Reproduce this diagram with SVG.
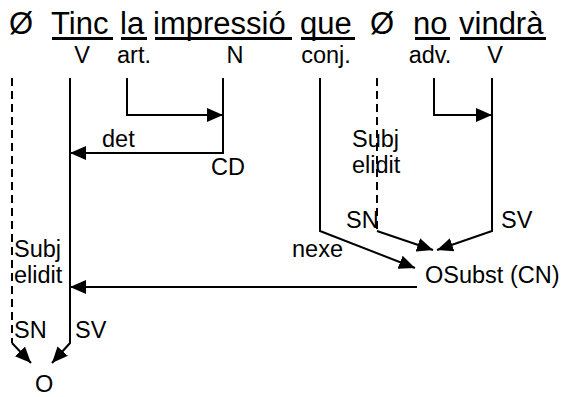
<svg xmlns="http://www.w3.org/2000/svg" width="567" height="397" viewBox="0 0 567 397">
<defs>
<style>
text{font-family:"Liberation Sans",Arial,sans-serif;fill:#000}
.w{font-size:31px}
.s{font-size:23.5px}
.m{text-anchor:middle}
.ln{fill:none;stroke:#000;stroke-width:2}
.d{stroke-dasharray:8,5}
.u{stroke:#000;stroke-width:3}
</style>
<marker id="ah" markerUnits="userSpaceOnUse" markerWidth="16" markerHeight="14" refX="16" refY="7" orient="auto">
<path d="M0,0 L16,7 L0,14 Z" fill="#000"/>
</marker>
</defs>
<rect width="567" height="397" fill="#fff"/>
<g id="words">
<text class="w" x="9" y="34">Ø</text>
<text class="w" x="51" y="34">Tinc</text>
<text class="w" x="120" y="34">la</text>
<text class="w" x="153" y="34">impressió</text>
<text class="w" x="300" y="34">que</text>
<text class="w" x="370" y="34">Ø</text>
<text class="w" x="413" y="34">no</text>
<text class="w" x="459" y="34">vindrà</text>
<line class="u" x1="52" y1="38.5" x2="113" y2="38.5"/>
<line class="u" x1="121" y1="38.5" x2="147" y2="38.5"/>
<line class="u" x1="155" y1="38.5" x2="292" y2="38.5"/>
<line class="u" x1="301" y1="38.5" x2="355" y2="38.5"/>
<line class="u" x1="415" y1="38.5" x2="450" y2="38.5"/>
<line class="u" x1="460" y1="38.5" x2="546" y2="38.5"/>
</g>
<g id="tags">
<text class="s m" x="82" y="63">V</text>
<text class="s m" x="134" y="63">art.</text>
<text class="s m" x="235" y="63">N</text>
<text class="s m" x="326" y="63">conj.</text>
<text class="s m" x="430" y="63">adv.</text>
<text class="s m" x="495" y="63">V</text>
</g>
<g id="connectors">
<path class="ln" d="M127,78 V115 H223" marker-end="url(#ah)"/>
<path class="ln" d="M223,78 V153 H70" marker-end="url(#ah)"/>
<path class="ln" d="M70,78 V343 L52,363" marker-end="url(#ah)"/>
<path class="ln d" d="M12,78 V343"/>
<path class="ln" d="M12,343 L31,363" marker-end="url(#ah)"/>
<path class="ln" d="M434,78 V115 H492" marker-end="url(#ah)"/>
<path class="ln" d="M320,78 V231 L415,268" marker-end="url(#ah)"/>
<path class="ln d" d="M377,78 V231"/>
<path class="ln" d="M377,231 L433,250" marker-end="url(#ah)"/>
<path class="ln" d="M492,78 V231 L437,250" marker-end="url(#ah)"/>
<path class="ln" d="M417,287 H70" marker-end="url(#ah)"/>
</g>
<g id="labels">
<text class="s" x="102" y="147">det</text>
<text class="s" x="211" y="175">CD</text>
<text class="s" x="352" y="147">Subj</text>
<text class="s" x="352" y="173">elidit</text>
<text class="s" x="346" y="228">SN</text>
<text class="s" x="501" y="228">SV</text>
<text class="s" x="292" y="257">nexe</text>
<g id="osubst"><text class="s" x="425" y="283">OSubst (CN)</text></g>
<text class="s" x="14" y="257">Subj</text>
<text class="s" x="14" y="283">elidit</text>
<text class="s" x="14" y="338">SN</text>
<text class="s" x="75" y="338">SV</text>
<g id="o"><text class="s" x="35" y="392">O</text></g>
</g>
</svg>
